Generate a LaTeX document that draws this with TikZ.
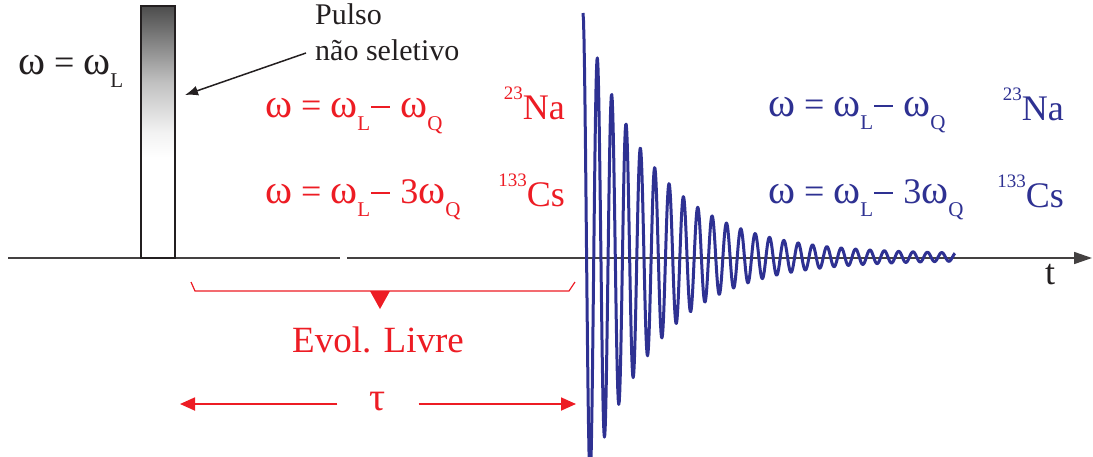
\documentclass[tikz,border=0pt]{standalone}
\usepackage{fontspec}
\setmainfont{Liberation Serif}
\usetikzlibrary{arrows.meta}
\definecolor{fidblue}{HTML}{2E3192}
\definecolor{evolred}{HTML}{ED1C24}
\definecolor{inkblack}{HTML}{231F20}
\pgfdeclareverticalshading{pulseshade}{100bp}{color(0bp)=(white); color(25bp)=(white);
  color(45bp)=(white); color(50bp)=(black!5); color(60bp)=(black!25); color(75bp)=(black!70);
  color(100bp)=(black!70)}
\newcommand\bigtext{\fontsize{36}{40}\selectfont}
\newcommand\om{{\fontsize{41}{41}\selectfont ω}}
\newcommand\mn{\kern1pt\rule[9pt]{19pt}{1.6pt}\kern1pt}
\newcommand\lowsub[1]{\raisebox{-13pt}{\fontsize{21}{21}\selectfont #1}}
\newcommand\highsup[1]{\raisebox{20pt}{\fontsize{19}{19}\selectfont #1}}
\tikzset{
  freq/.style={anchor=base west,inner sep=0pt,font=\bigtext},
  nucleus/.style={anchor=base east,inner sep=0pt,font=\bigtext},
  axis line/.style={draw=inkblack!85,line width=1.6pt},
  pulse/.style={draw=inkblack,line width=1.4pt,minimum width=34pt,minimum height=252pt,
    inner sep=0pt,shading=pulseshade},
  pointer/.style={draw=inkblack,line width=1.5pt,-{Latex[length=13pt,width=10pt]}},
  brace line/.style={draw=evolred,line width=1.2pt},
  span arrow/.style={draw=evolred,line width=1.8pt,-{Triangle[length=15pt,width=13pt]}},
  fid/.style={draw=fidblue,line width=3pt,line join=round}
}
\begin{document}
\begin{tikzpicture}[x=1pt,y=-1pt]
  \useasboundingbox (0,0) rectangle (1093,456);
  \coordinate (o) at (8,258);
  \coordinate (gapl) at (340,258);
  \coordinate (gapr) at (347,258);
  \coordinate (tend) at (1092,258);
  \draw[axis line] (o) -- (gapl);
  \draw[axis line,-{Triangle[length=18pt,width=12pt]}] (gapr) -- (tend);
  \node[font=\bigtext,inkblack] (t) at (1050,275) {t};
  \node[pulse] (pulse) at (158,132) {};
  \node[freq,inkblack] (wl) at (18,74) {\om\ = \om\lowsub{L}};
  \node[anchor=base west,inner sep=0pt,font=\fontsize{30}{34}\selectfont,inkblack] (pulsoA) at (315,24) {Pulso};
  \node[anchor=base west,inner sep=0pt,font=\fontsize{30}{34}\selectfont,inkblack] (pulsoB) at (315,60) {não seletivo};
  \coordinate (ptail) at (306,53);
  \coordinate (ptip) at (185,95);
  \draw[pointer] (ptail) -- (ptip);
  \node[freq,evolred] (rna) at (265,117) {\om\ = \om\lowsub{L}\mn\ \om\lowsub{Q}};
  \node[freq,evolred] (rcs) at (265,203) {\om\ = \om\lowsub{L}\mn\ 3\om\lowsub{Q}};
  \node[nucleus,evolred] (rna23) at (565,119) {\highsup{23}Na};
  \node[nucleus,evolred] (rcs133) at (565,206) {\highsup{133}Cs};
  \node[freq,fidblue] (bna) at (768,116) {\om\ = \om\lowsub{L}\mn\ \om\lowsub{Q}};
  \node[freq,fidblue] (bcs) at (768,203) {\om\ = \om\lowsub{L}\mn\ 3\om\lowsub{Q}};
  \node[nucleus,fidblue] (bna23) at (1064,120) {\highsup{23}Na};
  \node[nucleus,fidblue] (bcs133) at (1064,207) {\highsup{133}Cs};
  \draw[brace line] (191,282) -- (195,291) -- (569,291) -- (575,282);
  \fill[evolred] (370,291) -- (390,291) -- (380,309) -- cycle;
  \node[font=\fontsize{37}{40}\selectfont,evolred] (evol) at (378,340) {Evol. Livre};
  \node[font=\fontsize{40}{40}\selectfont,evolred,minimum width=81pt] (tau) at (378,402) {τ};
  \coordinate (tauL) at (180,404);
  \coordinate (tauR) at (576,404);
  \draw[span arrow] (tau.west |- tauL) -- (tauL);
  \draw[span arrow] (tau.east |- tauR) -- (tauR);
  \draw[fid] plot[domain=0:372,samples=750]
    ({583+\x},{257-(241*exp(-\x/70)+3)*cos(25.087*\x)});
\end{tikzpicture}
\end{document}
